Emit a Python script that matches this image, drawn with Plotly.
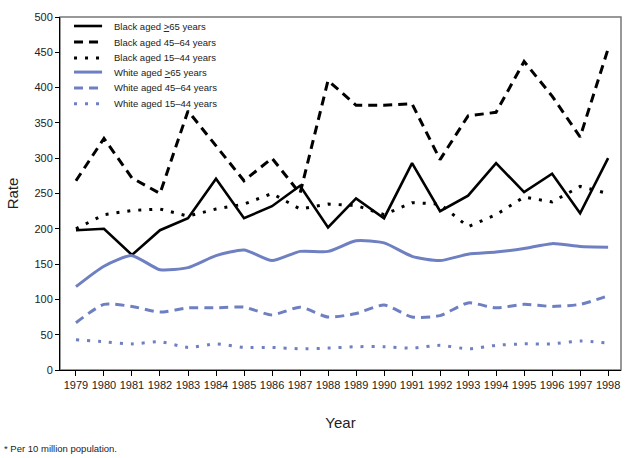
import plotly.graph_objects as go

years = list(range(1979, 1999))
black_65 = [198, 200, 163, 198, 215, 271, 215, 232, 261, 202, 243, 215, 293, 225, 247, 293, 252, 278, 222, 300]
black_45_64 = [268, 328, 272, 250, 367, 318, 268, 300, 250, 410, 375, 375, 377, 298, 360, 365, 437, 388, 330, 455]
black_15_44 = [200, 220, 226, 228, 218, 228, 235, 250, 228, 235, 233, 220, 237, 235, 203, 220, 245, 238, 260, 250]
white_65 = [118, 147, 162, 142, 145, 162, 170, 155, 168, 168, 183, 180, 161, 155, 164, 167, 172, 179, 175, 174]
white_45_64 = [67, 93, 90, 82, 88, 88, 89, 78, 89, 75, 80, 92, 75, 77, 95, 88, 93, 90, 93, 105]
white_15_44 = [43, 40, 37, 40, 32, 37, 32, 32, 30, 31, 33, 33, 31, 35, 30, 35, 37, 37, 41, 38]

names = ["Black aged <u>></u>65 years", "Black aged 45\u201364 years", "Black aged 15\u201344 years",
         "White aged <u>></u>65 years", "White aged 45\u201364 years", "White aged 15\u201344 years"]

BLUE = "#6f80c2"
FONT = "Liberation Sans Narrow, Arial Narrow, Liberation Sans, Arial, sans-serif"

series = [
    (black_65, "black", "solid", 2.6, "linear"),
    (black_45_64, "black", "9px,6px", 3, "linear"),
    (black_15_44, "black", "3px,8px", 3, "linear"),
    (white_65, BLUE, "solid", 3, "spline"),
    (white_45_64, BLUE, "9px,6px", 3, "spline"),
    (white_15_44, BLUE, "3px,8px", 3, "spline"),
]

fig = go.Figure()
shapes = [dict(type="rect", xref="paper", yref="paper", x0=0, y0=0, x1=1, y1=1,
               line=dict(color="#777", width=1.5), layer="below")]
annotations = []
# manual legend (compact spacing like the reference)
leg_rows = [0.9745, 0.929, 0.884, 0.844, 0.799, 0.754]
for (vals, col, dash, w, shape), nm, ly in zip(series, names, leg_rows):
    fig.add_trace(go.Scatter(x=years, y=vals, mode="lines", name=nm, showlegend=False,
                             line=dict(color=col, dash=dash, width=w, shape=shape, smoothing=0.6)))
    shapes.append(dict(type="line", xref="paper", yref="paper", x0=0.025, x1=0.075, y0=ly, y1=ly,
                       line=dict(color=col, dash=dash, width=w)))
    annotations.append(dict(text=nm, xref="paper", yref="paper", x=0.0925, y=ly,
                            xanchor="left", yanchor="middle", showarrow=False,
                            font=dict(size=9.5, family=FONT, color="#222")))

annotations.append(dict(text="* Per 10 million population.", xref="paper", yref="paper",
                        x=-0.103, y=-0.221, xanchor="left", yanchor="middle", showarrow=False,
                        font=dict(size=9.5, family=FONT, color="#222")))

fig.update_layout(
    width=629, height=458,
    margin=dict(l=60, r=8, t=17, b=88),
    paper_bgcolor="white", plot_bgcolor="white",
    font=dict(family=FONT, size=11, color="#222"),
    showlegend=False,
    xaxis=dict(range=[1978.43, 1998.46], tickvals=years, ticktext=[str(y) for y in years],
               showgrid=False, zeroline=False, showline=True, linecolor="black", linewidth=1,
               ticks="outside", ticklen=5, tickcolor="black",
               title=dict(text="Year", font=dict(size=15, family=FONT), standoff=27)),
    yaxis=dict(range=[0, 500], dtick=50, showgrid=False, zeroline=False, showline=True,
               linecolor="black", linewidth=1, ticks="outside", ticklen=4, tickcolor="black",
               title=dict(text="Rate", font=dict(size=15, family=FONT), standoff=12)),
    shapes=shapes,
    annotations=annotations,
)

fig.write_html("out.html", config={"displayModeBar": False},
               post_script="document.body.style.margin='0px';document.body.style.padding='0px';")
